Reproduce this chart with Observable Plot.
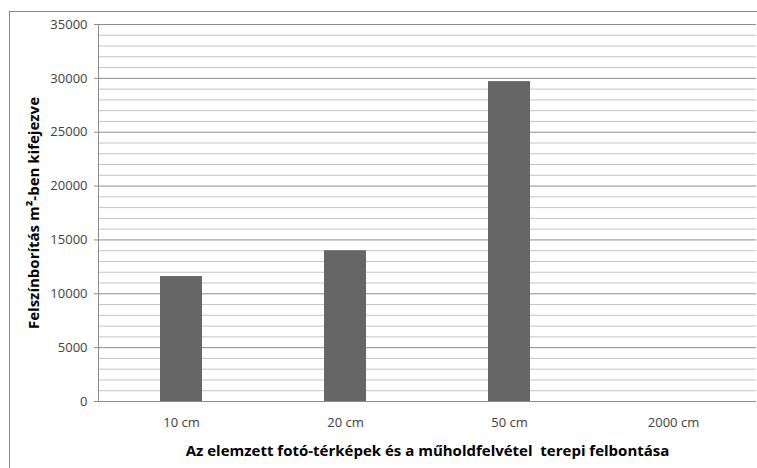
<!DOCTYPE html>
<html>
<head>
<meta charset="utf-8">
<script src="https://cdn.jsdelivr.net/npm/d3@7"></script>
<script src="https://cdn.jsdelivr.net/npm/@observablehq/plot@0.6"></script>
<style>
  body { margin: 0; background: #fff; }
  #wrap { position: relative; width: 757px; height: 468px; overflow: hidden; }
  #frame { position: absolute; left: 9px; top: 11px; width: 800px; height: 500px;
           border-left: 1px solid #8a8a8a; border-top: 1px solid #8a8a8a; pointer-events: none; }
</style>
</head>
<body>
<div id="wrap"><div id="frame"></div></div>
<script>
const categories = ["10 cm", "20 cm", "50 cm", "2000 cm"];
const values = [11600, 14000, 29700, 0];
const majorTicks = [0, 5000, 10000, 15000, 20000, 25000, 30000, 35000];
const minorTicks = d3.range(0, 35001, 1000);
const yTitle = "Felszínborítás m²-ben kifejezve";
const xTitle = "Az elemzett fotó-térképek és a műholdfelvétel  terepi felbontása";

const data = categories.map((c, i) => ({cat: c, value: values[i]}));

const chart = Plot.plot({
  width: 757,
  height: 468,
  marginLeft: 98,
  marginRight: 1,
  marginTop: 24,
  marginBottom: 67,
  style: {fontFamily: "Open Sans", fontSize: "13px", color: "#404040", background: "transparent"},
  x: {domain: categories, paddingInner: 0.745, paddingOuter: 0.3725, label: null},
  y: {domain: [0, 35000], label: null},
  marks: [
    Plot.ruleY(minorTicks.filter(d => d % 5000 !== 0), {stroke: "#c4c4c4", strokeWidth: 1}),
    Plot.ruleY(majorTicks.filter(d => d > 0), {stroke: "#8c8c8c", strokeWidth: 1}),
    Plot.barY(data, {x: "cat", y: "value", fill: "#666666"}),
    Plot.ruleY([0], {stroke: "#8c8c8c"}),
    Plot.frame({anchor: "left", stroke: "#8c8c8c"}),
    Plot.axisY({ticks: majorTicks, tickFormat: d3.format("d"), tickSize: 4, tickPadding: 7, stroke: "#8c8c8c", label: null}),
    Plot.axisX({tickSize: 0, tickPadding: 16, label: null}),
    Plot.text([yTitle], {frameAnchor: "left", dx: -64, rotate: -90, fontWeight: "bold", fontSize: 15, fill: "#000", lineAnchor: "middle", textAnchor: "middle"}),
    Plot.text([xTitle], {frameAnchor: "bottom", dy: 50, fontWeight: "bold", fontSize: 15, fill: "#000", lineAnchor: "middle", textAnchor: "middle"})
  ]
});
document.getElementById("wrap").prepend(chart);
</script>
</body>
</html>
